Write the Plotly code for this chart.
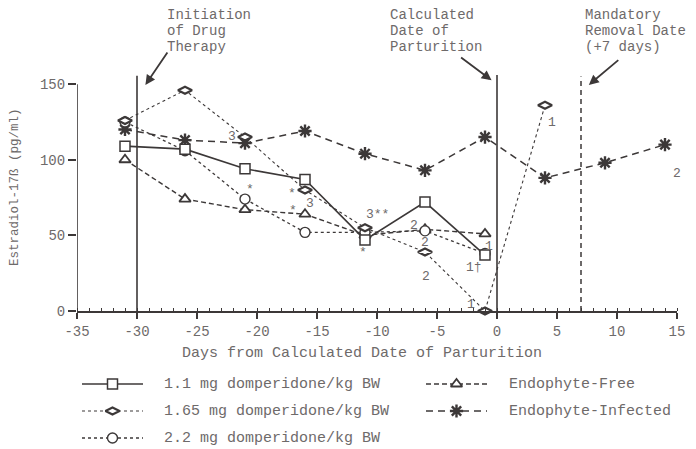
import plotly.graph_objects as go

# ---- data: estradiol-17B (pg/ml) by day relative to calculated parturition ----
days_11 = [-31, -26, -21, -16, -11, -6, -1]
e2_11 = [109, 107, 94, 87, 47, 72, 37]

days_165 = [-31, -26, -21, -16, -11, -6, -1, 4]
e2_165 = [126, 146, 115, 80, 55, 39, 0, 136]

days_22 = [-31, -26, -21, -16, -11, -6, -1]
e2_22 = [125, 106, 74, 52, 52, 53, 38]

days_free = [-31, -26, -21, -16, -11, -6, -1]
e2_free = [100, 74, 67, 64, 50, 54, 51]

days_inf = [-31, -26, -21, -16, -11, -6, -1, 4, 9, 14]
e2_inf = [120, 113, 111, 119, 104, 93, 115, 88, 98, 110]

series_names = [
    "1.1 mg domperidone/kg BW",
    "1.65 mg domperidone/kg BW",
    "2.2 mg domperidone/kg BW",
    "Endophyte-Free",
    "Endophyte-Infected",
]

x_ticks = [-35, -30, -25, -20, -15, -10, -5, 0, 5, 10, 15]
x_tick_text = ["-35", "-30", "-25", "-20", "-15", "-10", "-5", "0", "5", "10", "15"]
y_ticks = [0, 50, 100, 150]

# small sample-size / significance marks placed beside points
point_notes = [
    ("3", -22.1, 115.5), ("*", -20.6, 80), ("*", -17.1, 78), ("*", -17.0, 66.5),
    ("3", -15.6, 71), ("3**", -10.0, 63.5), ("*", -11.2, 39), ("2", -6.9, 56.5),
    ("2", -6.0, 45), ("2", -5.9, 23), ("1", -0.7, 42.5), ("1\u2020", -1.9, 29),
    ("1", -2.2, 4), ("1", 4.6, 124.5), ("2", 15.0, 91),
]

# ---- styling ----
W, H = 696, 449
INK = "#3c3838"
TXT = "#6e6a6a"
FONT = "Liberation Mono"

styles = [
    dict(line=dict(color=INK, width=1.6, dash="solid"),
         marker=dict(symbol="square", size=10, color="white", line=dict(color=INK, width=1.5))),
    dict(line=dict(color=INK, width=1.1, dash="dot"),
         marker=dict(symbol="diamond-wide", size=10, color="white", line=dict(color=INK, width=2.2))),
    dict(line=dict(color=INK, width=1.3, dash="3px,3px"),
         marker=dict(symbol="circle", size=10, color="white", line=dict(color=INK, width=1.4))),
    dict(line=dict(color=INK, width=1.4, dash="5px,3px"),
         marker=dict(symbol="triangle-up", size=10, color="white", line=dict(color=INK, width=1.8))),
    dict(line=dict(color=INK, width=1.5, dash="7px,5px"),
         marker=dict(symbol="asterisk-open", size=11, color=INK, line=dict(color=INK, width=2.4))),
]

# plot area in pixels
PL, PR, PT, PB = 77, 677, 69, 311


def px_x(p):
    return p / W


def px_y(p):
    return 1 - p / H


def label(x, y, text, size=15, xanchor="left", angle=0):
    fig.add_annotation(
        x=px_x(x), y=px_y(y), xref="paper", yref="paper", text=text,
        showarrow=False, xanchor=xanchor, yanchor="middle", textangle=angle,
        font=dict(family=FONT, size=size, color=TXT),
    )


fig = go.Figure()

data = [(days_11, e2_11), (days_165, e2_165), (days_22, e2_22),
        (days_free, e2_free), (days_inf, e2_inf)]
draw_order = [4, 3, 2, 1, 0]
for i in draw_order:
    xs, ys = data[i]
    fig.add_trace(go.Scatter(
        x=xs, y=ys, mode="lines+markers", name=series_names[i],
        line=styles[i]["line"], marker=styles[i]["marker"],
        cliponaxis=False, showlegend=False, xaxis="x", yaxis="y",
    ))

# ---- hand-built legend in a pixel-space overlay axis ----
legend_slots = [
    (82, 143, 384), (82, 143, 411), (82, 143, 438),
    (426, 487, 384), (426, 487, 411),
]
legend_text_x = [162, 162, 162, 507, 507]
for i, (x0, x1, yy) in enumerate(legend_slots):
    fig.add_trace(go.Scatter(
        x=[x0, x1], y=[yy, yy], mode="lines", line=styles[i]["line"],
        showlegend=False, xaxis="x2", yaxis="y2", hoverinfo="skip",
    ))
    fig.add_trace(go.Scatter(
        x=[(x0 + x1) / 2], y=[yy], mode="markers", marker=styles[i]["marker"],
        showlegend=False, xaxis="x2", yaxis="y2", hoverinfo="skip", cliponaxis=False,
    ))
    label(legend_text_x[i], yy, series_names[i])

# ---- event lines ----
fig.add_shape(type="line", x0=-35, x1=-35, y0=0, y1=150, xref="x", yref="y",
              line=dict(color=INK, width=1.6))
fig.add_shape(type="line", x0=-30, x1=-30, y0=0, y1=155.5, xref="x", yref="y",
              line=dict(color=INK, width=1.6))
fig.add_shape(type="line", x0=0, x1=0, y0=0, y1=156, xref="x", yref="y",
              line=dict(color=INK, width=1.6))
fig.add_shape(type="line", x0=7, x1=7, y0=0, y1=155, xref="x", yref="y",
              line=dict(color=INK, width=1.5, dash="5px,4px"))

# ---- event captions and arrows ----
captions = [
    (165, ["Initiation", "of Drug", "Therapy"]),
    (388, ["Calculated", "Date of", "Parturition"]),
    (583, ["Mandatory", "Removal Date", "(+7 days)"]),
]
for x0, lines in captions:
    for k, t in enumerate(lines):
        label(x0, 15 + 16 * k, t, size=14)

arrows = [(-29.3, 149.5, 23, -34), (-0.45, 152.5, -32, -24), (7.65, 149.5, 31, -26)]
for ax_, ay_, dx, dy in arrows:
    fig.add_annotation(
        x=ax_, y=ay_, xref="x", yref="y", ax=dx, ay=dy, axref="pixel", ayref="pixel",
        text="", showarrow=True, arrowhead=2, arrowsize=1.1, arrowwidth=1.8,
        arrowcolor=INK,
    )

# ---- point notes ----
for t, xx, yy in point_notes:
    fig.add_annotation(
        x=xx, y=yy, xref="x", yref="y", text=t, showarrow=False,
        xanchor="center", yanchor="middle",
        font=dict(family=FONT, size=13, color=TXT),
    )

# ---- axis titles ----
label(362, 353, "Days from Calculated Date of Parturition", xanchor="center")
label(15, 187, "Estradiol-17\u00df (pg/ml)", size=12.5, xanchor="center", angle=-90)

fig.update_layout(
    width=W, height=H, margin=dict(l=0, r=0, t=0, b=0, pad=0, autoexpand=False),
    paper_bgcolor="white", plot_bgcolor="rgba(0,0,0,0)",
    showlegend=False,
    xaxis=dict(
        domain=[px_x(PL), px_x(PR)], range=[-35, 15], anchor="y", automargin=False,
        tickvals=x_ticks, ticktext=x_tick_text, ticks="outside", ticklen=6,
        tickwidth=1.5, tickcolor=INK, showgrid=False, zeroline=False,
        showline=True, linecolor=INK, linewidth=1.6,
        tickfont=dict(family=FONT, size=14, color=TXT),
        minor=dict(dtick=1, ticks="inside", ticklen=3, tickcolor=INK, tickwidth=1.2,
                   showgrid=False),
    ),
    yaxis=dict(
        domain=[px_y(PB), px_y(PT)], range=[0, 160], anchor="x", automargin=False,
        tickvals=y_ticks, ticks="outside", ticklen=8, tickwidth=1.5, tickcolor=INK,
        showgrid=False, zeroline=False, showline=False,
        tickfont=dict(family=FONT, size=14, color=TXT),
    ),
    xaxis2=dict(domain=[0, 1], range=[0, W], visible=False, anchor="y2", automargin=False),
    yaxis2=dict(domain=[0, 1], range=[H, 0], visible=False, anchor="x2", automargin=False),
)

fig.write_html("out.html")
